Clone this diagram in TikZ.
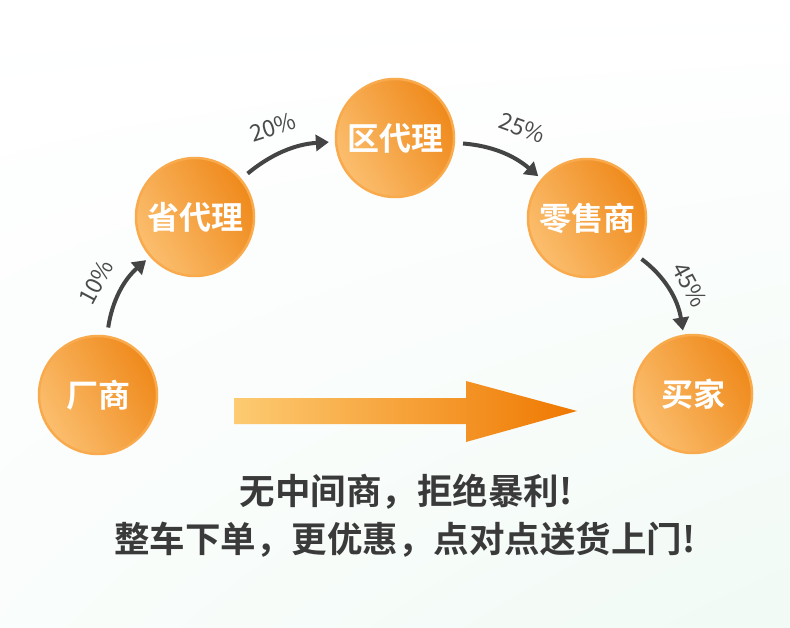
\documentclass[tikz,border=0pt]{standalone}
\usepackage{fontspec}
\newfontfamily\cjk{Noto Sans CJK SC}
\newfontfamily\cjkb{Noto Sans CJK SC Bold}
\usetikzlibrary{arrows.meta,shadings}
\definecolor{ringc}{HTML}{F9AA4C}
\definecolor{lightc}{HTML}{FBBE6E}
\definecolor{darkc}{HTML}{EF8A1C}
\definecolor{arrc}{HTML}{444444}
\definecolor{txtc}{HTML}{3A3A3A}
\definecolor{pctc}{HTML}{4A4A4A}
\definecolor{bgmint}{HTML}{F1FAF5}
\definecolor{barl}{HTML}{FDCB72}
\definecolor{barr}{HTML}{EF7800}
\begin{document}
\begin{tikzpicture}[x=1pt,y=-1pt,
  ball/.style={circle,minimum size=118pt,inner sep=0pt,
    draw=ringc,line width=2.5pt,
    left color=lightc,right color=darkc,shading angle=120,
    text=white,font=\cjkb\fontsize{32}{32}\selectfont},
  flow/.style={draw=arrc,line width=4pt,-{Triangle[length=13pt,width=16pt]}},
  pct/.style={text=pctc,font=\cjk\fontsize{23}{23}\selectfont,inner sep=0pt},
  slogan/.style={text=txtc,font=\cjkb\fontsize{35.5}{35.5}\selectfont,inner sep=0pt}]
\shade[upper left=white,upper right=white,lower left=white!60!bgmint,lower right=bgmint] (0,0) rectangle (790,628);
\useasboundingbox (0,0) rectangle (790,628);

\node[ball] (f) at (98,395) {厂商};
\node[ball] (p) at (195,217) {省代理};
\node[ball] (q) at (395,138) {区代理};
\node[ball] (r) at (587,218) {零售商};
\node[ball] (b) at (693,394) {买家};

\draw[flow,shorten <=8pt,shorten >=5pt] (f) to[bend left=20] (p);
\draw[flow,shorten <=8pt,shorten >=6pt] (p) to[bend left=18] (q);
\draw[flow,shorten <=8pt,shorten >=4pt] (q) to[bend left=18] (r);
\draw[flow,shorten <=8pt,shorten >=4pt] (r) to[bend left=22] (b);

\node[pct,rotate=62] (l1) at (96,282) {10\%};
\node[pct,rotate=18] (l2) at (273,127) {20\%};
\node[pct,rotate=-20] (l3) at (522,128) {25\%};
\node[pct,rotate=-62] (l4) at (690,285) {45\%};

\shade[left color=barl,right color=barr]
  (234,398) -- (466,398) -- (466,381) -- (577,411) -- (466,442) -- (466,424) -- (234,424) -- cycle;

\node[slogan] (s1) at (406,492) {无中间商，拒绝暴利!};
\node[slogan] (s2) at (405,540) {整车下单，更优惠，点对点送货上门!};
\end{tikzpicture}
\end{document}
